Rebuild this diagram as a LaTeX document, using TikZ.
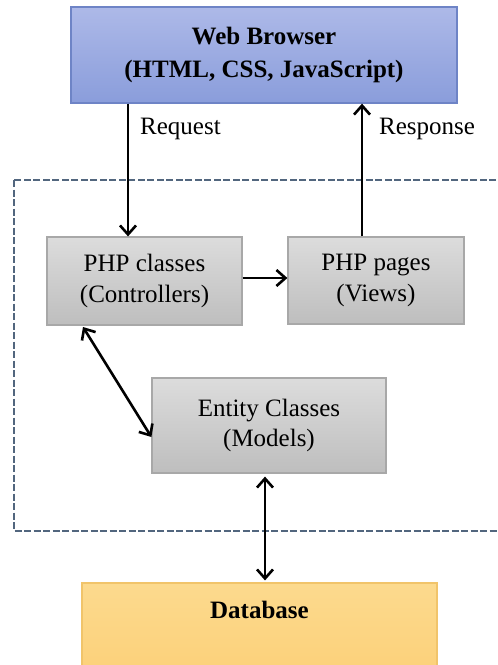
\documentclass[tikz,border=0pt]{standalone}
\usepackage{fontspec}
\setmainfont{Liberation Serif}
\usetikzlibrary{arrows.meta,calc}
\definecolor{wbtop}{HTML}{ADB9E8}
\definecolor{wbbot}{HTML}{8A9DDB}
\definecolor{wbline}{HTML}{6E84C6}
\definecolor{grtop}{HTML}{DCDCDC}
\definecolor{grbot}{HTML}{BEBEBE}
\definecolor{grline}{HTML}{A8A8A8}
\definecolor{dbtop}{HTML}{FCDA8E}
\definecolor{dbbot}{HTML}{FCCF76}
\definecolor{dbline}{HTML}{F1C46A}
\definecolor{dashcol}{HTML}{52667E}
\tikzset{
  wbbox/.style={draw=wbline, line width=1.3pt, top color=wbtop, bottom color=wbbot,
    minimum width=386pt, minimum height=96pt, inner sep=0pt, align=center,
    font=\fontsize{25}{33}\selectfont\bfseries},
  graybox/.style={draw=grline, line width=1.2pt, top color=grtop, bottom color=grbot,
    inner sep=0pt, align=center, font=\fontsize{25}{31}\selectfont},
  dbbox/.style={draw=dbline, line width=1.2pt, top color=dbtop, bottom color=dbbot,
    minimum width=355pt, minimum height=107pt, inner sep=0pt},
  lbl/.style={font=\fontsize{25}{30}\selectfont, inner sep=0pt, anchor=base west},
  arr/.style={line width=2.6pt, -{Straight Barb[length=9pt,width=16pt,line width=2.6pt]}},
  darr/.style={line width=2.6pt, {Straight Barb[length=9pt,width=16pt,line width=2.6pt]}-{Straight Barb[length=9pt,width=16pt,line width=2.6pt]}},
  container/.style={draw=dashcol, line width=2.4pt, dash pattern=on 7pt off 2.5pt}
}
\begin{document}
\begin{tikzpicture}[x=1pt,y=-1pt]
\useasboundingbox (0,0) rectangle (498,665);
% container
\draw[container] (14,180) rectangle (512,531);
% boxes
\node[wbbox] (wb) at (264,55) {Web Browser\\(HTML, CSS, JavaScript)};
\node[graybox, minimum width=195pt, minimum height=88pt] (ctrl) at (144.5,281) {PHP classes\\(Controllers)};
\node[graybox, minimum width=176pt, minimum height=87pt] (views) at (376,280.5) {PHP pages\\(Views)};
\node[graybox, minimum width=234pt, minimum height=95pt] (ent) at (269,425.5) {\raisebox{4pt}{\begin{tabular}{@{}c@{}}Entity Classes\\[-1pt](Models)\end{tabular}}};
\node[dbbox] (db) at (259.5,636.5) {};
\node[font=\fontsize{25}{30}\selectfont\bfseries, inner sep=0pt, anchor=base] (dbtext) at (259.5,618) {Database};
% labels
\node[lbl] (reqlbl) at (140,134) {Request};
\node[lbl] (resplbl) at (379,134) {Response};
% helper coordinates
\coordinate (req) at (128,0);
\coordinate (resp) at (362,0);
\coordinate (hz) at (0,278);
\coordinate (d1) at (83,327);
\coordinate (d2) at (0,437);
\coordinate (vdb) at (265,0);
% connectors
\draw[arr] (wb.south -| req) -- (ctrl.north -| req);
\draw[arr] (views.north -| resp) -- (wb.south -| resp);
\draw[arr] (ctrl.east |- hz) -- (views.west |- hz);
\draw[darr] (d1) -- (ent.west |- d2);
\draw[darr, shorten <=3pt, shorten >=2pt] (ent.south -| vdb) -- (db.north -| vdb);
\end{tikzpicture}
\end{document}
